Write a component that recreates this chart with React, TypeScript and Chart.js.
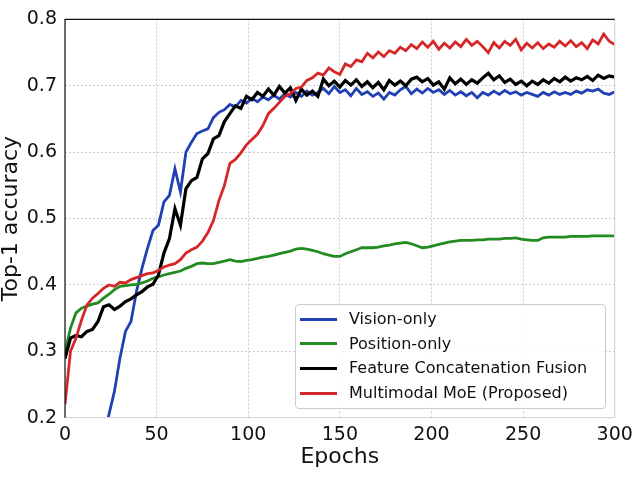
import React, { useEffect, useRef } from "react";
import { Chart, registerables } from "chart.js";

Chart.register(...registerables);

const epochs = [
  0, 3, 6, 9, 12, 15, 18, 21, 24, 27, 30, 33, 36, 39, 42, 45, 48,
  51, 54, 57, 60, 63, 66, 69, 72, 75, 78, 81, 84, 87, 90, 93, 96, 99,
  102, 105, 108, 111, 114, 117, 120, 123, 126, 129, 132, 135, 138, 141, 144, 147, 150,
  153, 156, 159, 162, 165, 168, 171, 174, 177, 180, 183, 186, 189, 192, 195, 198, 201,
  204, 207, 210, 213, 216, 219, 222, 225, 228, 231, 234, 237, 240, 243, 246, 249, 252,
  255, 258, 261, 264, 267, 270, 273, 276, 279, 282, 285, 288, 291, 294, 297, 300,
];

const visionOnly = [
  null, null, null, null, null, null, null, 0.17, 0.205, 0.24, 0.29, 0.33, 0.345, 0.39, 0.425, 0.455, 0.482,
  0.49, 0.525, 0.535, 0.575, 0.54, 0.6, 0.615, 0.628, 0.632, 0.635, 0.652, 0.66, 0.664, 0.672, 0.668, 0.678, 0.674,
  0.681, 0.676, 0.683, 0.679, 0.686, 0.68, 0.688, 0.683, 0.69, 0.684, 0.692, 0.686, 0.69, 0.696, 0.688, 0.699, 0.69,
  0.694, 0.685, 0.696, 0.687, 0.691, 0.684, 0.689, 0.68, 0.69, 0.686, 0.694, 0.699, 0.688, 0.695, 0.689, 0.696, 0.69,
  0.694, 0.687, 0.693, 0.686, 0.691, 0.685, 0.69, 0.682, 0.69, 0.686, 0.692, 0.687, 0.693, 0.688, 0.691, 0.686, 0.69,
  0.687, 0.684, 0.69, 0.686, 0.691, 0.687, 0.69, 0.687, 0.692, 0.689, 0.694, 0.692, 0.695, 0.689, 0.687, 0.691,
];

const positionOnly = [
  0.299, 0.335, 0.358, 0.365, 0.368, 0.371, 0.373, 0.38, 0.386, 0.393, 0.398, 0.399, 0.4, 0.401, 0.403, 0.406, 0.41,
  0.412, 0.415, 0.417, 0.419, 0.421, 0.425, 0.428, 0.432, 0.433, 0.432, 0.432, 0.434, 0.436, 0.438, 0.436, 0.435, 0.437,
  0.438, 0.44, 0.442, 0.443, 0.445, 0.447, 0.449, 0.451, 0.454, 0.455, 0.454, 0.452, 0.45, 0.447, 0.445, 0.443, 0.443,
  0.447, 0.45, 0.453, 0.456, 0.456, 0.456, 0.457, 0.459, 0.46, 0.462, 0.463, 0.464, 0.462, 0.459, 0.456, 0.457, 0.459,
  0.461, 0.463, 0.465, 0.466, 0.467, 0.467, 0.467, 0.468, 0.468, 0.469, 0.469, 0.469, 0.47, 0.47, 0.471, 0.469, 0.468,
  0.467, 0.467, 0.471, 0.472, 0.472, 0.472, 0.472, 0.473, 0.473, 0.473, 0.473, 0.474, 0.474, 0.474, 0.474, 0.474,
];

const featureConcat = [
  0.289, 0.32, 0.324, 0.322, 0.33, 0.333, 0.345, 0.367, 0.37, 0.363, 0.368, 0.375, 0.379, 0.385, 0.39, 0.397, 0.401,
  0.415, 0.448, 0.47, 0.515, 0.49, 0.545, 0.557, 0.562, 0.59, 0.598, 0.62, 0.625, 0.646, 0.658, 0.67, 0.666, 0.684,
  0.679, 0.69, 0.684, 0.695, 0.686, 0.699, 0.689, 0.697, 0.678, 0.695, 0.686, 0.692, 0.684, 0.71, 0.7, 0.707, 0.698,
  0.708, 0.701, 0.709, 0.699, 0.706, 0.697, 0.705, 0.694, 0.708, 0.701, 0.707, 0.7, 0.71, 0.713, 0.706, 0.711, 0.701,
  0.706, 0.695, 0.712, 0.703, 0.71, 0.702, 0.709, 0.704, 0.712, 0.719, 0.709, 0.715, 0.705, 0.71, 0.702, 0.707, 0.7,
  0.707, 0.702, 0.709, 0.704, 0.711, 0.706, 0.713, 0.707, 0.712, 0.709, 0.714, 0.708, 0.716, 0.711, 0.715, 0.713,
];

const multimodalMoE = [
  0.22, 0.3, 0.32, 0.347, 0.37, 0.38, 0.387, 0.395, 0.4, 0.398, 0.404, 0.403, 0.408, 0.411, 0.414, 0.417, 0.418,
  0.422, 0.427, 0.43, 0.432, 0.438, 0.448, 0.453, 0.457, 0.466, 0.479, 0.497, 0.527, 0.55, 0.583, 0.589, 0.599, 0.611,
  0.619, 0.627, 0.64, 0.658, 0.666, 0.675, 0.684, 0.688, 0.696, 0.698, 0.708, 0.712, 0.719, 0.716, 0.727, 0.721, 0.717,
  0.733, 0.729, 0.739, 0.736, 0.749, 0.742, 0.751, 0.744, 0.753, 0.749, 0.758, 0.753, 0.762, 0.756, 0.766, 0.758, 0.767,
  0.755, 0.764, 0.757, 0.766, 0.759, 0.77, 0.761, 0.767, 0.759, 0.75, 0.765, 0.757, 0.767, 0.761, 0.77, 0.754, 0.764,
  0.757, 0.765, 0.756, 0.763, 0.758, 0.767, 0.76, 0.768, 0.759, 0.765, 0.756, 0.769, 0.763, 0.778, 0.767, 0.762,
];

const seriesNames = [
  "Vision-only",
  "Position-only",
  "Feature Concatenation Fusion",
  "Multimodal MoE (Proposed)",
];
const seriesColors = ["#2140b4", "#228b22", "#000000", "#d62728"];
const seriesValues = [visionOnly, positionOnly, featureConcat, multimodalMoE];

const xTicks = [0, 50, 100, 150, 200, 250, 300];
const yTicks = [0.2, 0.3, 0.4, 0.5, 0.6, 0.7, 0.8];

const captionText = "Fig. 3: Top-1 accuracy comparison of the proposed multimodal MoE and baselines";

const FONT = "'DejaVu Sans', 'Liberation Sans', sans-serif";

const spinesPlugin = {
  id: "spines",
  afterDatasetsDraw(chart: any) {
    const { ctx, chartArea } = chart;
    const { left, right, top, bottom } = chartArea;
    ctx.save();
    ctx.lineWidth = 1.2;
    ctx.strokeStyle = "#d9d9d9";
    ctx.beginPath();
    ctx.moveTo(left, bottom);
    ctx.lineTo(right, bottom);
    ctx.lineTo(right, top);
    ctx.stroke();
    ctx.strokeStyle = "#111111";
    ctx.beginPath();
    ctx.moveTo(left, bottom);
    ctx.lineTo(left, top);
    ctx.lineTo(right, top);
    ctx.stroke();
    ctx.restore();
  },
};

export default function App() {
  const canvasRef = useRef<HTMLCanvasElement | null>(null);

  useEffect(() => {
    if (!canvasRef.current) return;
    const datasets = seriesNames.map((name, i) => ({
      label: name,
      data: epochs.map((e, j) => ({ x: e, y: seriesValues[i][j] })),
      borderColor: seriesColors[i],
      backgroundColor: seriesColors[i],
      borderWidth: i === 2 ? 3.2 : 2.8,
      pointRadius: 0,
      tension: 0,
      spanGaps: false,
      clip: 0,
      order: 3 - i,
    }));

    const chart = new Chart(canvasRef.current, {
      type: "line",
      data: { datasets },
      options: {
        animation: false,
        responsive: false,
        maintainAspectRatio: false,
        layout: { padding: { top: 7.3, right: 25.3, left: 0, bottom: 0 } },
        plugins: {
          legend: { display: false },
          tooltip: { enabled: false },
        },
        scales: {
          x: {
            type: "linear",
            min: 0,
            max: 300,
            afterBuildTicks: (scale: any) => {
              scale.ticks = xTicks.map((v) => ({ value: v }));
            },
            afterFit: (scale: any) => {
              scale.height = 82.3;
            },
            ticks: {
              color: "#111",
              font: { family: FONT, size: 19 },
              padding: 6,
              maxRotation: 0,
              callback: (v: any) => String(v),
            },
            grid: { color: "#cccccc", lineWidth: 1, drawTicks: false },
            border: { display: false, dash: [2, 2] },
            title: {
              display: true,
              text: "Epochs",
              color: "#111",
              font: { family: FONT, size: 22, lineHeight: 1 },
              padding: { top: 0, bottom: 32 },
            },
          },
          y: {
            type: "linear",
            min: 0.2,
            max: 0.8,
            afterBuildTicks: (scale: any) => {
              scale.ticks = yTicks.map((v) => ({ value: v }));
            },
            afterFit: (scale: any) => {
              scale.width = 65;
            },
            ticks: {
              color: "#111",
              font: { family: FONT, size: 19 },
              padding: 8,
              callback: (v: any) => Number(v).toFixed(1),
            },
            grid: { color: "#cccccc", lineWidth: 1, drawTicks: false },
            border: { display: false, dash: [2, 2] },
            title: {
              display: true,
              text: "Top-1 accuracy",
              color: "#111",
              font: { family: FONT, size: 22, lineHeight: 1 },
              padding: { top: 0, bottom: 0 },
            },
          },
        },
      },
      plugins: [spinesPlugin],
    });
    return () => chart.destroy();
  }, []);

  const rowCenters = [319, 343.5, 368.3, 393.2];

  return (
    <div style={{ position: "fixed", left: 0, top: 0, width: 640, height: 500, background: "#fff", overflow: "hidden" }}>
      <canvas ref={canvasRef} width={640} height={500} style={{ position: "absolute", left: 0, top: 0 }} />
      <div
        style={{
          position: "absolute",
          left: 295,
          top: 304,
          width: 311,
          height: 105,
          boxSizing: "border-box",
          border: "1px solid #cccccc",
          borderRadius: 4,
          background: "rgba(255,255,255,0.85)",
        }}
      />
      {seriesNames.map((name, i) => (
        <React.Fragment key={name}>
          <div
            style={{
              position: "absolute",
              left: 300,
              top: rowCenters[i] - 1.5,
              width: 37,
              height: 3,
              background: seriesColors[i],
            }}
          />
          <div
            style={{
              position: "absolute",
              left: 349,
              top: rowCenters[i] - 8,
              fontFamily: FONT,
              fontSize: 16,
              lineHeight: "16px",
              color: "#111",
              whiteSpace: "nowrap",
            }}
          >
            {name}
          </div>
        </React.Fragment>
      ))}
      <div
        style={{
          position: "absolute",
          left: 8,
          top: 499,
          fontFamily: "'Liberation Serif', serif",
          fontSize: 17,
          lineHeight: "20px",
          color: "#555",
          whiteSpace: "nowrap",
        }}
      >
        {captionText}
      </div>
    </div>
  );
}
